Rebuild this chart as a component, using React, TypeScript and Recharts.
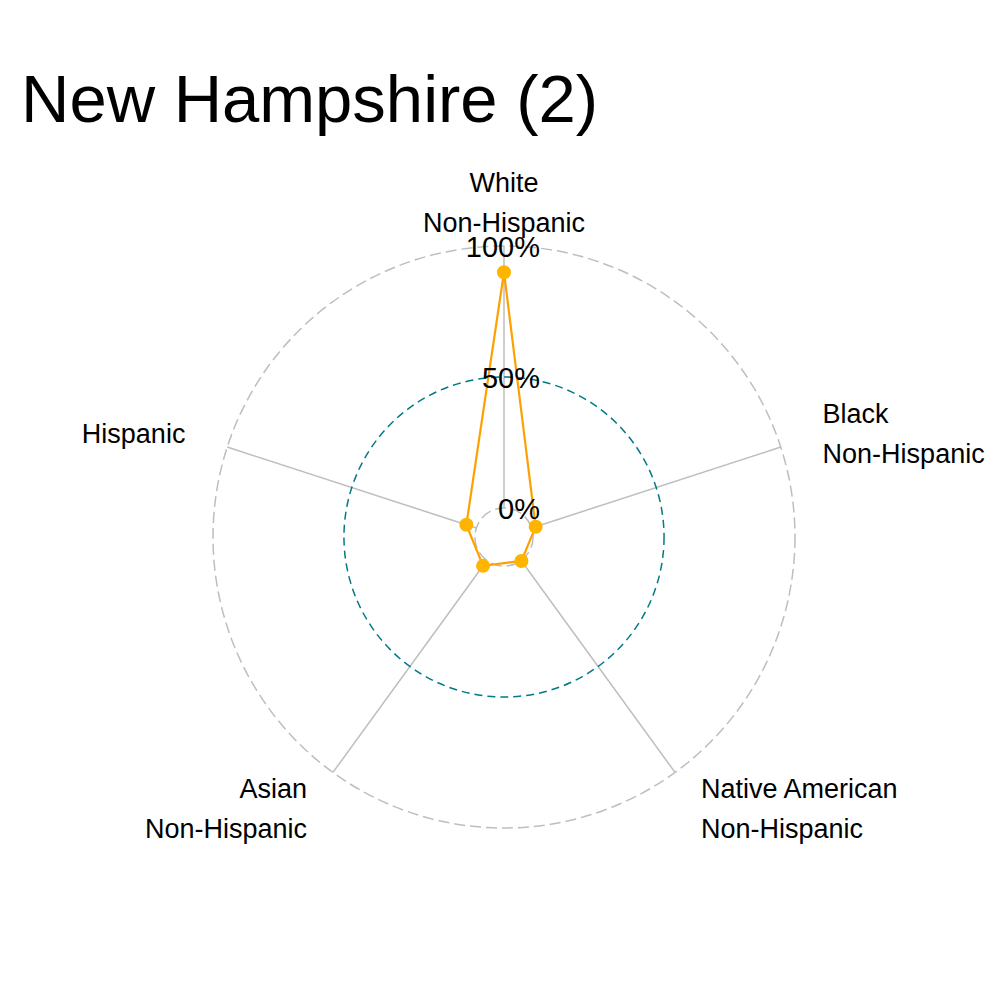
import React from "react";
import {
  RadarChart,
  Radar,
  PolarGrid,
  PolarAngleAxis,
  PolarRadiusAxis,
} from "recharts";

const FONT = "'Liberation Sans', Arial, sans-serif";
const GREY = "#BEBEBE";
const TEAL = "#007A87";
const ORANGE = "#FFB400";

const INNER = 29.1;
const OUTER = 291;

// ── data ────────────────────────────────────────────────────────────────────
const groups = [
  "White\nNon-Hispanic",
  "Black\nNon-Hispanic",
  "Native American\nNon-Hispanic",
  "Asian\nNon-Hispanic",
  "Hispanic",
];
const shares = [0.9, 0.016, 0.002, 0.025, 0.04];
const gridTicks = [0, 0.5, 1];
const gridTickLabels = ["0%", "50%", "100%"];
const greyGridValues = [0, 1];
const midGridValues = [0.5];

const data = groups.map((label, i) => ({ label, value: shares[i] }));

// same linear mapping the radius axis uses (domain [0,1] -> [INNER, OUTER])
const toRadius = (v: number) => INNER + v * (OUTER - INNER);

function AngleTick(props: any) {
  const { x, y, payload, textAnchor } = props;
  const lines = String(payload.value).split("\n");
  const first = y - (lines.length - 1) * 20;
  return (
    <text textAnchor={textAnchor} fontSize={27} fontFamily={FONT} fill="#000">
      {lines.map((l, i) => (
        <tspan key={i} x={x} y={first + i * 40 + 10}>
          {l}
        </tspan>
      ))}
    </text>
  );
}

function RadiusTick(props: any) {
  const { x, y, payload } = props;
  const idx = gridTicks.indexOf(payload.value);
  return (
    <text
      x={x + 36}
      y={y + 11}
      textAnchor="end"
      fontSize={29}
      fontFamily={FONT}
      fill="#000"
    >
      {gridTickLabels[idx]}
    </text>
  );
}

export default function App() {
  return (
    <div
      style={{
        position: "absolute",
        left: 0,
        top: 0,
        width: 1000,
        height: 1000,
        background: "#fff",
      }}
    >
      <svg
        width={1000}
        height={160}
        style={{ position: "absolute", left: 0, top: 0 }}
      >
        <text x={21} y={122} fontSize={67} fontFamily={FONT} fill="#000">
          New Hampshire (2)
        </text>
      </svg>
      <div style={{ position: "absolute", left: 0, top: 0 }}>
        <RadarChart
          width={1000}
          height={1000}
          data={data}
          cx={504}
          cy={537}
          innerRadius={INNER}
          outerRadius={OUTER}
          startAngle={90}
          endAngle={-270}
          margin={{ top: 0, right: 0, bottom: 0, left: 0 }}
        >
          <PolarGrid
            gridType="circle"
            stroke={GREY}
            strokeWidth={1.5}
            radialLines
            polarRadius={[]}
          />
          <PolarGrid
            gridType="circle"
            polarRadius={greyGridValues.map(toRadius)}
            stroke={GREY}
            strokeWidth={1.5}
            strokeDasharray="11 5"
            radialLines={false}
          />
          <PolarGrid
            gridType="circle"
            polarRadius={midGridValues.map(toRadius)}
            stroke={TEAL}
            strokeWidth={1.5}
            strokeDasharray="8 5"
            radialLines={false}
          />
          <PolarAngleAxis
            dataKey="label"
            tick={<AngleTick />}
            tickSize={44}
            tickLine={false}
            axisLine={false}
          />
          <PolarRadiusAxis
            angle={90}
            domain={[0, 1]}
            ticks={gridTicks}
            tick={<RadiusTick />}
            tickLine={false}
            axisLine={false}
          />
          <Radar
            dataKey="value"
            stroke="#FFA000"
            strokeWidth={2.2}
            fill="none"
            fillOpacity={0}
            dot={{ r: 7, fill: ORANGE, stroke: ORANGE, strokeWidth: 0, fillOpacity: 1 }}
            isAnimationActive={false}
          />
        </RadarChart>
      </div>
    </div>
  );
}
